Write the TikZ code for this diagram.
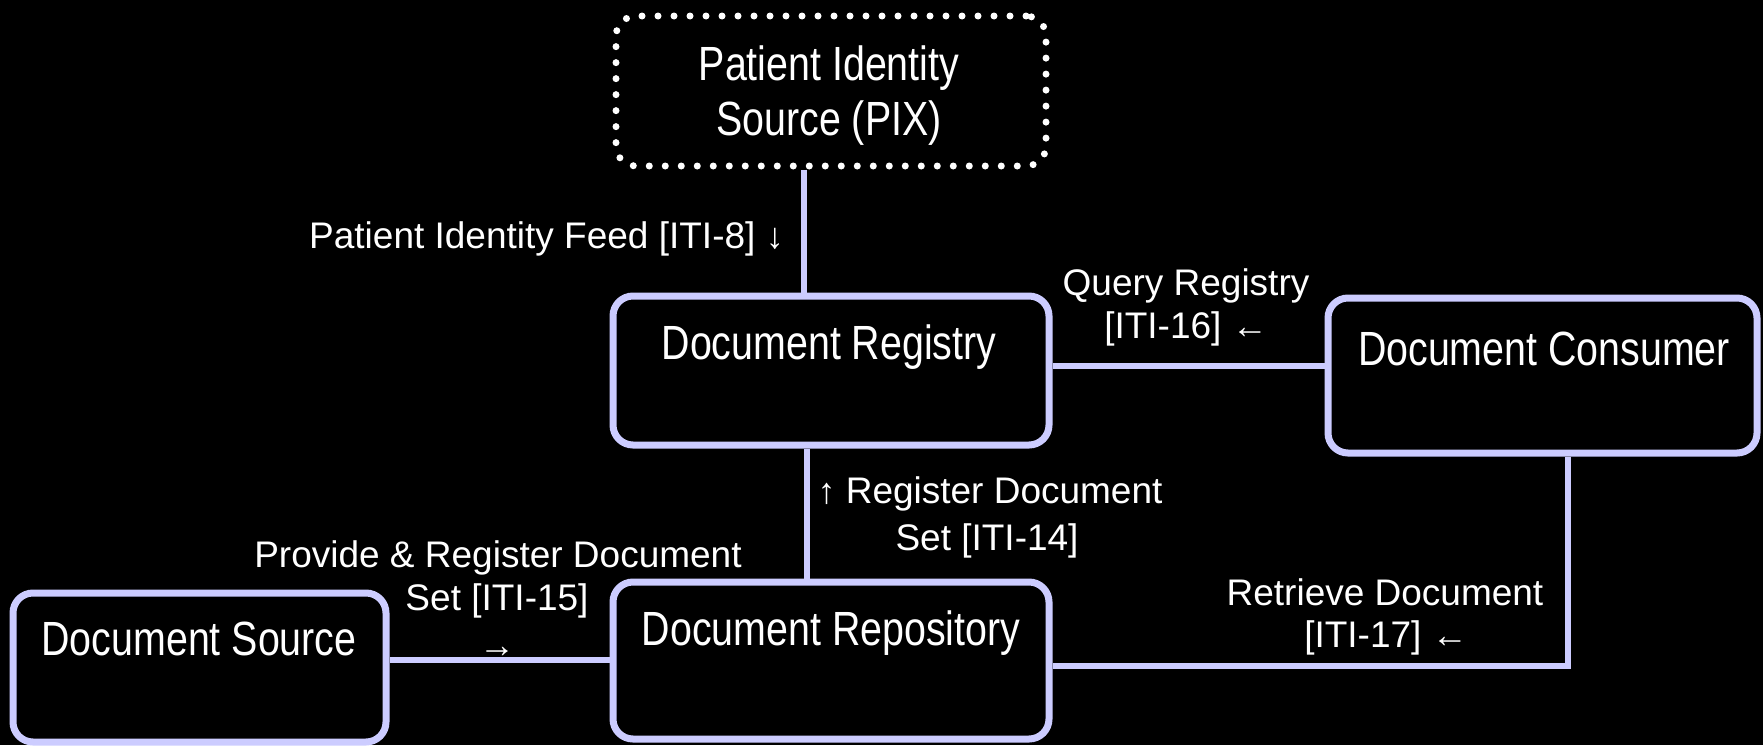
\documentclass[tikz,border=0pt]{standalone}
\usepackage{fontspec}
\setmainfont{Liberation Sans}
\newfontfamily\narrowfont[FakeStretch=0.82]{Liberation Sans}
\newcommand{\arr}[1]{{\fontsize{36}{40}\selectfont #1}}
\definecolor{lav}{HTML}{CCCCFF}
\begin{document}
\begin{tikzpicture}[x=1pt,y=-1pt,
  box/.style={draw=lav, line width=7pt, rounded corners=20pt, fill=black, inner sep=0pt},
  pixbox/.style={draw=white, line width=7pt, dash pattern=on 0pt off 16pt, line cap=round, rounded corners=20pt, fill=black, inner sep=0pt},
  ntext/.style={text=white, font=\narrowfont\fontsize{48}{56}\selectfont, inner sep=0pt, anchor=base},
  etext/.style={text=white, font=\fontsize{37}{44}\selectfont, inner sep=0pt, anchor=base},
  conn/.style={draw=lav, line width=6pt},
]
\fill[black] (0,0) rectangle (1763,745);
\useasboundingbox (0,0) rectangle (1763,745);

% boxes
\node[pixbox, minimum width=430pt, minimum height=150pt] (pix) at (831,91) {};
\node[box, minimum width=436pt, minimum height=149pt] (reg) at (831,370.5) {};
\node[box, minimum width=436pt, minimum height=157pt] (repo) at (831,660.5) {};
\node[box, minimum width=429pt, minimum height=155pt] (cons) at (1542.5,375.5) {};
\node[box, minimum width=373pt, minimum height=149pt] (src) at (199.5,667.5) {};

% connectors
\draw[conn] ([xshift=-27pt]pix.south) -- ([xshift=-27pt]reg.north);
\draw[conn] ([xshift=-24pt]reg.south) -- ([xshift=-24pt]repo.north);
\draw[conn] (reg.east |- 0,366) -- (cons.west |- 0,366);
\draw[conn] (src.east |- 0,660) -- (repo.west |- 0,660);
\draw[conn] ([xshift=25pt]cons.south) |- (repo.east |- 0,666);

% node texts
\node[ntext] (pixt1) at (829,80) {Patient Identity};
\node[ntext] (pixt2) at (829,135) {Source (PIX)};
\node[ntext] (regt) at (829,359) {Document Registry};
\node[ntext] (const) at (1544,365) {Document Consumer};
\node[ntext] (srct) at (199,655) {Document Source};
\node[ntext] (repot) at (831,645) {Document Repository};

% edge labels
\node[etext, anchor=base west] (l8) at (309,248) {Patient Identity Feed [ITI-8]~\arr{↓}};
\node[etext] (l16a) at (1186,295) {Query Registry};
\node[etext] (l16b) at (1186,338) {[ITI-16]~\arr{←}};
\node[etext] (l14a) at (990,503) {\arr{↑}~Register Document};
\node[etext] (l14b) at (987,550) {Set [ITI-14]};
\node[etext] (l15a) at (498,567) {Provide \& Register Document};
\node[etext] (l15b) at (497,610) {Set [ITI-15]};
\node[etext] (l15c) at (497,657) {\arr{→}};
\node[etext] (l17a) at (1385,605) {Retrieve Document};
\node[etext] (l17b) at (1386,647) {[ITI-17]~\arr{←}};
\end{tikzpicture}
\end{document}
